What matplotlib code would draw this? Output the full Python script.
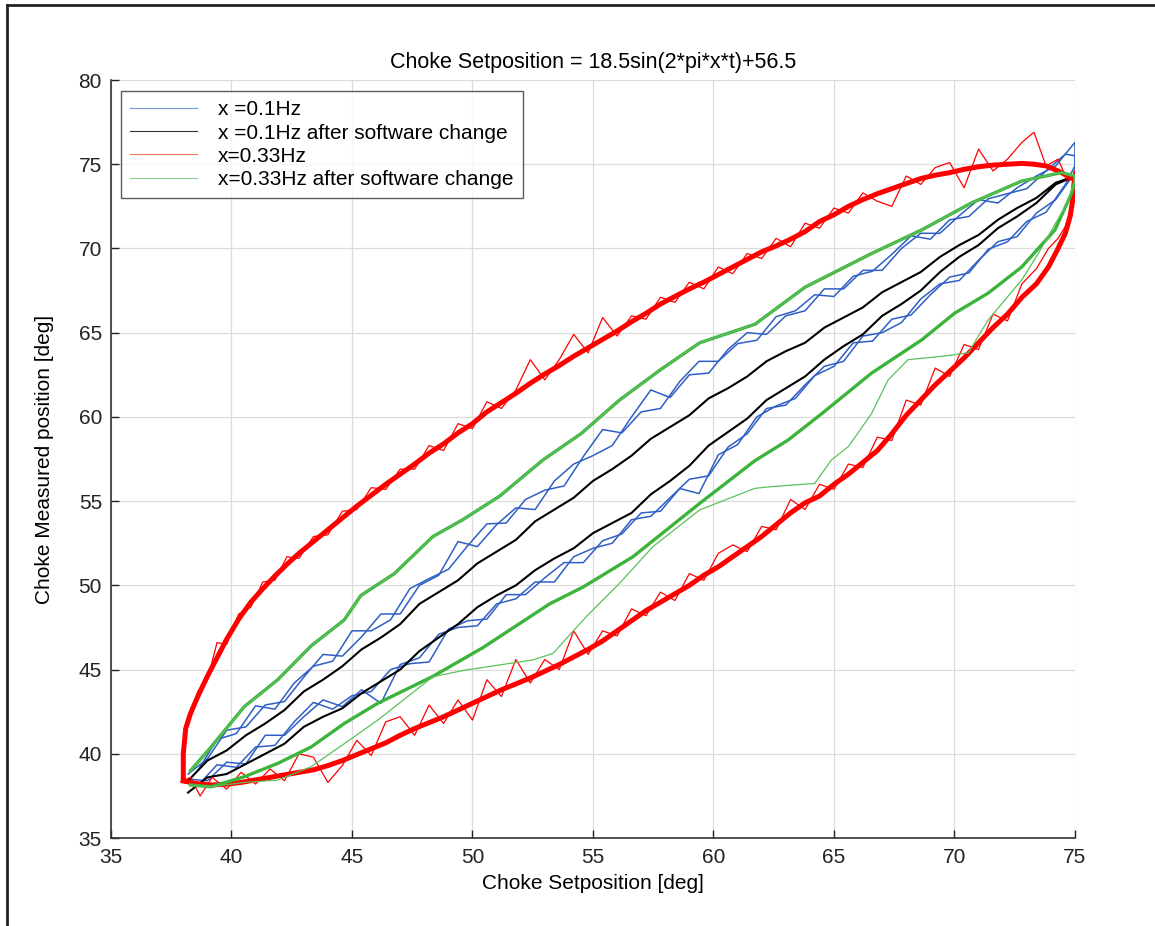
import matplotlib.pyplot as plt
from matplotlib.lines import Line2D

plt.rcParams['font.family'] = ['Liberation Sans', 'DejaVu Sans']

# ---- x = 0.33 Hz (red), upper and lower branch ----
red_up_x = [38.0, 38.0, 38.1, 38.3, 38.6, 39.0, 39.4, 39.8, 40.3, 40.8, 41.3, 41.8, 42.3, 42.8, 43.4,
            44.0, 44.6, 45.2, 45.8, 46.4, 47.0, 47.6, 48.2, 48.8, 49.4, 50.0, 50.6, 51.2, 51.8, 52.4,
            53.0, 53.6, 54.2, 54.8, 55.4, 56.0, 56.6, 57.2, 57.8, 58.4, 59.0, 59.6, 60.2, 60.8, 61.4,
            62.0, 62.6, 63.2, 63.8, 64.4, 65.0, 65.6, 66.2, 66.8, 67.4, 68.0, 68.6, 69.2, 69.8, 70.4,
            71.0, 71.6, 72.2, 72.8, 73.3, 73.8, 74.3, 74.7, 75.0]
red_up_y = [38.4, 40.0, 41.5, 42.4, 43.4, 44.6, 45.7, 46.8, 48.0, 49.0, 49.8, 50.55, 51.25, 51.9, 52.6,
            53.3, 54.0, 54.7, 55.35, 56.0, 56.6, 57.2, 57.85, 58.4, 59.05, 59.6, 60.3, 60.85, 61.4, 62.0,
            62.55, 63.05, 63.6, 64.1, 64.6, 65.1, 65.65, 66.15, 66.7, 67.15, 67.6, 68.0, 68.45, 68.9, 69.35,
            69.8, 70.15, 70.55, 71.0, 71.6, 72.0, 72.5, 72.9, 73.25, 73.55, 73.85, 74.15, 74.35, 74.5, 74.7,
            74.85, 74.95, 75.0, 75.05, 75.0, 74.9, 74.6, 74.3, 74.1]
red_up_spiky = [38.4, 39.5, 41.8, 42.2, 43.7, 44.4, 46.6, 46.5, 48.3, 48.7, 50.2, 50.3, 51.7, 51.6, 52.9,
                53.0, 54.4, 54.5, 55.8, 55.7, 56.9, 56.9, 58.3, 58.0, 59.6, 59.3, 60.9, 60.5, 61.6, 63.4,
                62.2, 63.4, 64.9, 63.8, 65.9, 64.8, 66.0, 65.8, 67.1, 66.8, 68.0, 67.6, 68.9, 68.5, 69.7,
                69.4, 70.6, 70.1, 71.5, 71.2, 72.4, 72.1, 73.3, 72.8, 72.5, 74.3, 73.8, 74.8, 75.1, 73.6,
                75.9, 74.6, 75.3, 76.3, 76.9, 74.9, 75.3, 74.0, 74.2]
red_lo_x = [74.97, 74.9, 74.8, 74.6, 74.3, 73.9, 73.4, 72.8, 72.2, 71.6, 71.0, 70.4, 69.8, 69.2, 68.6,
            68.0, 67.4, 66.8, 66.2, 65.6, 65.0, 64.4, 63.8, 63.2, 62.6, 62.0, 61.4, 60.8, 60.2, 59.6,
            59.0, 58.4, 57.8, 57.2, 56.6, 56.0, 55.4, 54.8, 54.2, 53.6, 53.0, 52.4, 51.8, 51.2, 50.6,
            50.0, 49.4, 48.8, 48.2, 47.6, 47.0, 46.4, 45.8, 45.2, 44.6, 44.0, 43.4, 42.8, 42.2, 41.6,
            41.0, 40.4, 39.8, 39.2, 38.7, 38.3, 38.0]
red_lo_y = [74.0, 72.8, 71.9, 70.9, 70.0, 68.9, 67.9, 67.1, 66.1, 65.3, 64.4, 63.5, 62.7, 61.9, 61.0,
            60.1, 59.0, 58.0, 57.3, 56.6, 56.0, 55.3, 54.9, 54.3, 53.6, 52.9, 52.3, 51.7, 51.1, 50.6,
            50.0, 49.5, 49.0, 48.5, 47.9, 47.3, 46.7, 46.2, 45.75, 45.3, 44.9, 44.5, 44.15, 43.8, 43.4,
            43.0, 42.6, 42.2, 41.85, 41.5, 41.1, 40.65, 40.3, 39.95, 39.6, 39.3, 39.05, 38.9, 38.75, 38.6,
            38.45, 38.3, 38.2, 38.15, 38.2, 38.3, 38.4]
red_lo_spiky = [74.6, 73.2, 72.3, 71.3, 70.6, 70.0, 68.8, 67.9, 65.7, 66.1, 64.0, 64.3, 62.4, 62.9, 60.7,
                61.0, 58.6, 58.8, 57.0, 57.2, 55.7, 56.0, 54.5, 55.1, 53.3, 53.5, 52.0, 52.4, 51.9, 50.3,
                50.7, 49.1, 49.6, 48.2, 48.6, 47.0, 47.3, 45.9, 47.3, 45.0, 45.6, 44.2, 45.6, 43.4, 44.4,
                42.0, 43.2, 41.8, 42.9, 41.1, 42.2, 41.9, 39.9, 40.8, 39.3, 38.3, 39.8, 40.0, 38.4, 39.1,
                38.2, 38.9, 37.9, 38.6, 37.5, 38.6, 38.4]

# ---- x = 0.1 Hz (blue, two cycles) and x = 0.1 Hz after change (black) ----
slow_x = [38.2, 39.0, 39.8, 40.6, 41.4, 42.2, 43.0, 43.8, 44.6, 45.4, 46.2, 47.0, 47.8, 48.6, 49.4,
          50.2, 51.0, 51.8, 52.6, 53.4, 54.2, 55.0, 55.8, 56.6, 57.4, 58.2, 59.0, 59.8, 60.6, 61.4,
          62.2, 63.0, 63.8, 64.6, 65.4, 66.2, 67.0, 67.8, 68.6, 69.4, 70.2, 71.0, 71.8, 72.6, 73.4,
          74.2, 75.0]
slow_x2 = [38.6, 39.4, 40.2, 41.0, 41.8, 42.6, 43.4, 44.2, 45.0, 45.8, 46.6, 47.4, 48.2, 49.0, 49.8,
           50.6, 51.4, 52.2, 53.0, 53.8, 54.6, 55.4, 56.2, 57.0, 57.8, 58.6, 59.4, 60.2, 61.0, 61.8,
           62.6, 63.4, 64.2, 65.0, 65.8, 66.6, 67.4, 68.2, 69.0, 69.8, 70.6, 71.4, 72.2, 73.0, 73.8,
           74.6, 75.0]
blue_up_y = [38.8, 39.7, 41.4, 41.6, 42.9, 43.1, 44.55, 45.9, 45.8, 46.95, 48.3, 48.3, 50.0, 50.6, 52.6,
             52.3, 53.6, 54.6, 54.5, 56.2, 57.2, 57.7, 58.3, 60.0, 61.6, 61.15, 62.5, 62.6, 64.0, 65.0,
             64.9, 66.0, 66.3, 67.6, 67.6, 68.7, 68.7, 70.0, 70.9, 70.9, 71.95, 72.9, 72.7, 73.6, 74.3,
             74.9, 76.3]
blue_lo_y = [38.5, 38.4, 39.5, 39.4, 41.1, 41.1, 42.2, 43.2, 42.8, 43.8, 43.0, 45.3, 45.7, 47.1, 47.5,
             47.6, 48.9, 49.2, 50.2, 50.2, 51.7, 52.2, 52.5, 53.9, 54.1, 55.2, 56.3, 56.5, 58.2, 59.0,
             60.5, 60.7, 61.9, 63.0, 63.3, 64.8, 65.0, 65.6, 67.0, 67.9, 68.1, 69.3, 70.4, 70.7, 72.1,
             72.9, 74.5]
blue_up_y2 = [39.0, 40.85, 41.2, 42.85, 42.65, 44.2, 45.2, 45.5, 47.3, 47.3, 47.95, 49.8, 50.4, 50.95, 52.35,
              53.65, 53.7, 55.1, 55.65, 55.9, 57.65, 59.25, 59.05, 60.3, 60.5, 62.1, 63.3, 63.3, 64.35, 64.55,
              65.95, 66.3, 67.25, 67.15, 68.35, 68.65, 69.65, 70.75, 70.55, 71.7, 71.9, 72.95, 73.25, 73.55, 74.6,
              75.6, 75.5]
blue_lo_y2 = [38.1, 39.35, 39.2, 40.4, 40.5, 41.9, 43.05, 42.65, 43.45, 43.7, 45.0, 45.35, 45.45, 47.4, 47.9,
              48.0, 49.45, 49.45, 50.45, 51.35, 51.35, 52.65, 53.05, 54.3, 54.4, 55.75, 55.45, 57.75, 58.35, 60.0,
              60.65, 61.1, 62.45, 63.0, 64.4, 64.5, 65.8, 66.05, 67.25, 68.3, 68.55, 69.95, 70.4, 71.6, 72.15,
              73.8, 74.9]
black_up_y = [38.4, 39.6, 40.2, 41.1, 41.8, 42.6, 43.7, 44.4, 45.2, 46.2, 46.9, 47.7, 48.9, 49.6, 50.3,
              51.3, 52.0, 52.7, 53.8, 54.5, 55.2, 56.2, 56.9, 57.7, 58.7, 59.4, 60.1, 61.1, 61.7, 62.4,
              63.3, 63.9, 64.4, 65.3, 65.9, 66.5, 67.4, 68.0, 68.6, 69.5, 70.2, 70.8, 71.7, 72.4, 73.0,
              73.9, 74.3]
black_lo_y = [37.7, 38.6, 38.8, 39.4, 40.0, 40.6, 41.6, 42.2, 42.7, 43.6, 44.3, 45.0, 46.1, 46.9, 47.7,
              48.7, 49.4, 50.0, 50.9, 51.6, 52.2, 53.1, 53.7, 54.3, 55.4, 56.2, 57.1, 58.3, 59.1, 59.9,
              61.0, 61.7, 62.4, 63.4, 64.2, 64.9, 66.0, 66.7, 67.5, 68.6, 69.5, 70.2, 71.2, 71.9, 72.7,
              73.8, 74.3]

# ---- x = 0.33 Hz after change (green), thick loop and thin lower branch ----
green_up_x = [38.3, 39.15, 40.53, 41.92, 43.3, 44.68, 45.37, 46.76, 48.36, 49.6, 51.13, 52.93, 54.5,
              56.1, 57.8, 59.43, 61.72, 63.8, 66.56, 68.64, 70.7, 72.79, 74.45, 75.0]
green_up_y = [39.0, 40.4, 42.8, 44.4, 46.4, 47.95, 49.4, 50.7, 52.9, 53.9, 55.3, 57.45, 59.0,
              61.0, 62.8, 64.4, 65.5, 67.7, 69.7, 71.1, 72.7, 74.0, 74.5, 74.3]
green_lo_x = [75.0, 74.86, 74.17, 72.79, 71.4, 70.0, 68.64, 66.56, 64.5, 63.1, 61.72, 59.43, 56.66,
              54.59, 53.2, 50.43, 48.36, 46.07, 44.68, 43.3, 41.92, 40.53, 39.15, 38.3]
green_lo_y = [74.0, 73.27, 71.1, 68.9, 67.35, 66.15, 64.57, 62.6, 60.2, 58.63, 57.4, 54.87, 51.7,
              49.9, 48.9, 46.3, 44.6, 43.0, 41.8, 40.4, 39.43, 38.64, 38.04, 38.15]
green_thin_x = [75.0, 74.6, 73.48, 72.79, 71.4, 70.57, 69.5, 68.08, 67.25, 66.56, 65.6, 64.9, 64.2,
                62.4, 61.72, 59.43, 57.49, 56.1, 54.72, 53.34, 52.5, 49.74, 48.36, 46.07, 44.68,
                43.3, 41.92, 40.53, 39.15, 38.3]
green_thin_y = [74.0, 72.5, 69.7, 68.13, 65.76, 63.8, 63.6, 63.4, 62.2, 60.2, 58.24, 57.45, 56.05,
                55.86, 55.76, 54.48, 52.3, 50.12, 48.14, 45.96, 45.57, 44.98, 44.58, 42.0, 40.6,
                39.23, 38.44, 38.3, 38.04, 38.15]

labels = ['x =0.1Hz', 'x =0.1Hz after software change', 'x=0.33Hz', 'x=0.33Hz after software change']
colors = ['#2f5fc4', '#000000', '#ff0000', '#3cb43c']

fig = plt.figure(figsize=(11.55, 9.26), dpi=100)
ax = fig.add_axes([0.0961, 0.095, 0.8346, 0.8186])

# blue: two cycles, each with two branches
ax.plot(slow_x + slow_x[::-1], blue_up_y + blue_lo_y[::-1], color=colors[0], lw=1.1)
ax.plot(slow_x2 + slow_x2[::-1], blue_up_y2 + blue_lo_y2[::-1], color=colors[0], lw=1.1)
# black
ax.plot(slow_x + slow_x[::-1], black_up_y + black_lo_y[::-1], color=colors[1], lw=1.5)
# red: bundle of cycles
ax.plot(red_up_x + red_lo_x, red_up_y + red_lo_y, color=colors[2], lw=3.6, solid_joinstyle='round')
ax.plot(red_up_x + red_lo_x, red_up_spiky + red_lo_spiky, color=colors[2], lw=0.9)
# green: thick loop plus thin run
ax.plot(green_up_x + green_lo_x, green_up_y + green_lo_y, color=colors[3], lw=2.4)
ax.plot(green_up_x + green_thin_x, green_up_y + green_thin_y, color='#5cc05c', lw=0.9)

ax.set_xlim(35, 75)
ax.set_ylim(35, 80)
ax.set_xticks(range(35, 76, 5))
ax.set_yticks(range(35, 81, 5))
ax.tick_params(direction='in', length=6, width=1, labelsize=15, colors='#222222')
ax.tick_params(axis='x', pad=7)
ax.tick_params(axis='y', pad=6.5)
ax.grid(True, color='#dcdcdc', lw=0.9)
ax.set_axisbelow(True)
for side in ['top', 'right']:
    ax.spines[side].set_visible(False)
for side in ['left', 'bottom']:
    ax.spines[side].set_color('#333333')
    ax.spines[side].set_linewidth(1.2)

ax.set_title('Choke Setposition = 18.5sin(2*pi*x*t)+56.5', fontsize=15.5, pad=9)
ax.set_xlabel('Choke Setposition [deg]', fontsize=15, labelpad=5)
ax.set_ylabel('Choke Measured position [deg]', fontsize=15, labelpad=18)

handles = [Line2D([], [], color=c, lw=0.8) for c in ['#6d9ad6', '#333333', '#f07a64', '#8ccc8c']]
leg = ax.legend(handles, labels, loc='upper left', bbox_to_anchor=(0.0104, 0.9855), borderaxespad=0,
                fontsize=15, frameon=True, fancybox=False, handlelength=3.2, labelspacing=0.2,
                borderpad=0.45, handletextpad=1.0)
leg.get_frame().set_edgecolor('#333333')
leg.get_frame().set_linewidth(1.0)

# page frame
fig.add_artist(Line2D([0.006, 0.006], [0.0, 0.9946], color='#222222', lw=2))
fig.add_artist(Line2D([0.006, 1.0], [0.9946, 0.9946], color='#222222', lw=2))

fig.savefig('out.png', dpi=100)
